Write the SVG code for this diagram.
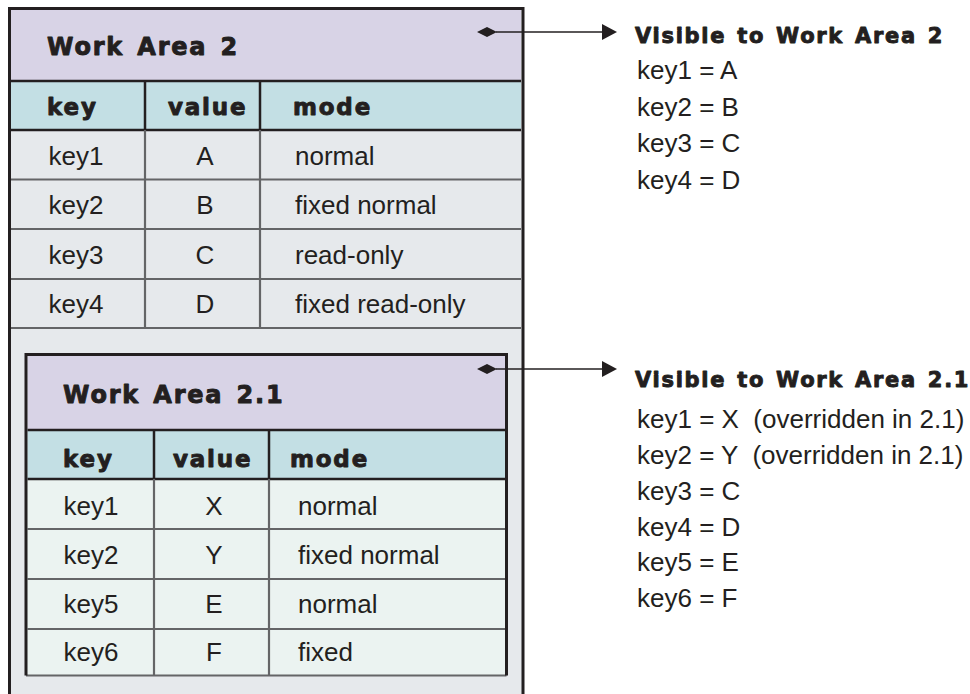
<svg xmlns="http://www.w3.org/2000/svg" width="970" height="694" viewBox="0 0 970 694">
<style>
.hd{font-family:"DejaVu Sans","Liberation Sans",sans-serif;font-weight:bold;fill:#231f20;stroke:#231f20;stroke-width:0.9px;stroke-linejoin:round}
.t1{font-size:24px;letter-spacing:1.8px;word-spacing:3px}
.th{font-size:23px;letter-spacing:1.8px}
.tt{font-size:21px;letter-spacing:1.7px;word-spacing:2px}
.tx{font-family:"Liberation Sans",Arial,sans-serif;font-size:26px;fill:#231f20;white-space:pre}
.c{text-anchor:middle}
.lav{fill:#d8d3e6}
.teal{fill:#c3dfe4}
.dark{stroke:#231f20;stroke-width:3;fill:none}
.dk2{stroke:#231f20;stroke-width:2.5;fill:none}
.grid{stroke:#646567;stroke-width:2.2;fill:none}
.conn{stroke:#231f20;stroke-width:1.6;fill:none}
.tip{fill:#231f20}
</style>
<rect width="970" height="694" fill="#ffffff"/>

<g id="work-area-2">
  <rect x="9.5" y="8.5" width="513.5" height="720" fill="#e6e9ec"/>
  <rect x="11" y="10" width="510" height="71" class="lav"/>
  <rect x="11" y="81" width="510" height="49" class="teal"/>
  <line x1="11" y1="81" x2="521" y2="81" class="dk2"/>
  <line x1="11" y1="130" x2="521" y2="130" class="dk2"/>
  <line x1="145" y1="81" x2="145" y2="130" class="dk2"/>
  <line x1="260" y1="81" x2="260" y2="130" class="dk2"/>
  <line x1="11" y1="179.5" x2="521" y2="179.5" class="grid"/>
  <line x1="11" y1="229" x2="521" y2="229" class="grid"/>
  <line x1="11" y1="279" x2="521" y2="279" class="grid"/>
  <line x1="11" y1="328" x2="521" y2="328" class="grid"/>
  <line x1="145" y1="130" x2="145" y2="328" class="grid"/>
  <line x1="260" y1="130" x2="260" y2="328" class="grid"/>
  <rect x="9.5" y="8.5" width="513.5" height="720" class="dark"/>
  <text x="47" y="55" class="hd t1">Work Area 2</text>
  <text x="47" y="115" class="hd th">key</text>
  <text x="168" y="115" class="hd th">value</text>
  <text x="293" y="115" class="hd th">mode</text>
  <text x="76" y="164.5" class="tx c">key1</text>
  <text x="205" y="164.5" class="tx c">A</text>
  <text x="295" y="164.5" class="tx">normal</text>
  <text x="76" y="214" class="tx c">key2</text>
  <text x="205" y="214" class="tx c">B</text>
  <text x="295" y="214" class="tx">fixed normal</text>
  <text x="76" y="263.5" class="tx c">key3</text>
  <text x="205" y="263.5" class="tx c">C</text>
  <text x="295" y="263.5" class="tx">read-only</text>
  <text x="76" y="313" class="tx c">key4</text>
  <text x="205" y="313" class="tx c">D</text>
  <text x="295" y="313" class="tx">fixed read-only</text>
</g>

<g id="work-area-2-1">
  <rect x="26" y="354.5" width="480.5" height="321" fill="#ebf3f1"/>
  <rect x="27.5" y="356" width="477.5" height="74" class="lav"/>
  <rect x="27.5" y="430" width="477.5" height="49" class="teal"/>
  <line x1="27.5" y1="430" x2="505" y2="430" class="dk2"/>
  <line x1="27.5" y1="479" x2="505" y2="479" class="dk2"/>
  <line x1="154" y1="430" x2="154" y2="479" class="dk2"/>
  <line x1="269" y1="430" x2="269" y2="479" class="dk2"/>
  <line x1="27.5" y1="529" x2="505" y2="529" class="grid"/>
  <line x1="27.5" y1="579" x2="505" y2="579" class="grid"/>
  <line x1="27.5" y1="629" x2="505" y2="629" class="grid"/>
  <line x1="154" y1="479" x2="154" y2="675.5" class="grid"/>
  <line x1="269" y1="479" x2="269" y2="675.5" class="grid"/>
  <line x1="26" y1="675.5" x2="506.5" y2="675.5" class="grid"/>
  <path d="M26,675.5 V354.5 H506.5 V675.5" class="dark"/>
  <text x="63" y="403" class="hd t1">Work Area 2.1</text>
  <text x="63" y="467" class="hd th">key</text>
  <text x="173" y="467" class="hd th">value</text>
  <text x="290" y="467" class="hd th">mode</text>
  <text x="91" y="515" class="tx c">key1</text>
  <text x="214" y="515" class="tx c">X</text>
  <text x="298" y="515" class="tx">normal</text>
  <text x="91" y="564" class="tx c">key2</text>
  <text x="214" y="564" class="tx c">Y</text>
  <text x="298" y="564" class="tx">fixed normal</text>
  <text x="91" y="613" class="tx c">key5</text>
  <text x="214" y="613" class="tx c">E</text>
  <text x="298" y="613" class="tx">normal</text>
  <text x="91" y="661" class="tx c">key6</text>
  <text x="214" y="661" class="tx c">F</text>
  <text x="298" y="661" class="tx">fixed</text>
</g>

<g id="connectors">
  <polygon points="477,32 487,27 497,32 487,37" class="tip"/>
  <line x1="496" y1="32" x2="604" y2="32" class="conn"/>
  <polygon points="602,24 617,32 602,40" class="tip"/>
  <polygon points="477,369 487,364 497,369 487,374" class="tip"/>
  <line x1="496" y1="369" x2="604" y2="369" class="conn"/>
  <polygon points="602,361 617,369 602,377" class="tip"/>
</g>

<g id="visible-2">
  <text x="635" y="43" class="hd tt">Visible to Work Area 2</text>
  <text x="637" y="79" class="tx">key1 = A</text>
  <text x="637" y="115.5" class="tx">key2 = B</text>
  <text x="637" y="152" class="tx">key3 = C</text>
  <text x="637" y="188.5" class="tx">key4 = D</text>
</g>

<g id="visible-2-1">
  <text x="635" y="387" class="hd tt">Visible to Work Area 2.1</text>
  <text x="637" y="428" class="tx">key1 = X  (overridden in 2.1)</text>
  <text x="637" y="464" class="tx">key2 = Y  (overridden in 2.1)</text>
  <text x="637" y="500" class="tx">key3 = C</text>
  <text x="637" y="536" class="tx">key4 = D</text>
  <text x="637" y="571" class="tx">key5 = E</text>
  <text x="637" y="607" class="tx">key6 = F</text>
</g>
</svg>
